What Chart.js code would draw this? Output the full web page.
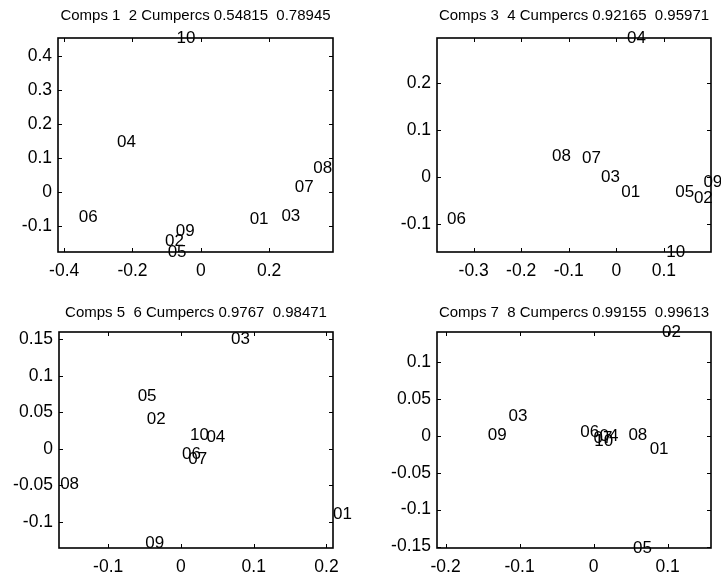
<!DOCTYPE html>
<html>
<head>
<meta charset="utf-8">
<script src="https://cdn.jsdelivr.net/npm/chart.js@4.4.1/dist/chart.umd.min.js"></script>
<style>
  body { margin: 0; background: #fff; }
  canvas { position: absolute; }
</style>
</head>
<body>
<canvas id="p1" width="360" height="290" style="left:0;top:0"></canvas>
<canvas id="p2" width="361" height="290" style="left:360px;top:0"></canvas>
<canvas id="p3" width="360" height="286" style="left:0;top:290px"></canvas>
<canvas id="p4" width="361" height="286" style="left:360px;top:290px"></canvas>
<script>
// point names, same for every panel
const names = ['01', '02', '03', '04', '05', '06', '07', '08', '09', '10'];

// component scores
const comp1 = [0.143, -0.105, 0.236, -0.245, -0.097, -0.357, 0.275, 0.329, -0.073, -0.071];
const comp2 = [-0.079, -0.144, -0.070, 0.147, -0.175, -0.072, 0.016, 0.071, -0.115, 0.454];
const comp3 = [0.0105, 0.163, -0.032, 0.0225, 0.124, -0.356, -0.072, -0.135, 0.183, 0.105];
const comp4 = [-0.033, -0.046, -0.001, 0.295, -0.033, -0.090, 0.040, 0.044, -0.011, -0.159];
const comp5 = [0.209, -0.047, 0.0687, 0.035, -0.0595, 0.0014, 0.010, -0.166, -0.049, 0.0124];
const comp6 = [-0.0897, 0.040, 0.150, 0.016, 0.0724, -0.008, -0.014, -0.0485, -0.130, 0.0188];
const comp7 = [0.0757, 0.0924, -0.115, 0.008, 0.0532, -0.018, 0.000, 0.047, -0.143, 0.001];
const comp8 = [-0.018, 0.141, 0.0263, 0.000, -0.152, 0.005, -0.003, 0.0004, 0.0004, -0.007];

const titles = [
  'Comps 1  2 Cumpercs 0.54815  0.78945',
  'Comps 3  4 Cumpercs 0.92165  0.95971',
  'Comps 5  6 Cumpercs 0.9767  0.98471',
  'Comps 7  8 Cumpercs 0.99155  0.99613'
];

// tick labels
const xTicks12 = [-0.4, -0.2, 0, 0.2];
const yTicks12 = [-0.1, 0, 0.1, 0.2, 0.3, 0.4];
const xTicks34 = [-0.3, -0.2, -0.1, 0, 0.1];
const yTicks34 = [-0.1, 0, 0.1, 0.2];
const xTicks56 = [-0.1, 0, 0.1, 0.2];
const yTicks56 = [-0.1, -0.05, 0, 0.05, 0.1, 0.15];
const xTicks78 = [-0.2, -0.1, 0, 0.1];
const yTicks78 = [-0.15, -0.1, -0.05, 0, 0.05, 0.1];

// axis ranges
const xRange12 = [-0.418, 0.387], yRange12 = [-0.175, 0.454];
const xRange34 = [-0.377, 0.199], yRange34 = [-0.159, 0.295];
const xRange56 = [-0.1676, 0.209], yRange56 = [-0.136, 0.160];
const xRange78 = [-0.2116, 0.1586], yRange78 = [-0.152, 0.141];

Chart.defaults.font.family = '"Liberation Sans", Arial, sans-serif';
Chart.defaults.color = '#000';

const fmt = v => String(Math.round(v * 1000) / 1000);

// writes the point names at the data positions (left aligned, middle)
const nameLabels = {
  id: 'nameLabels',
  afterDatasetsDraw(chart) {
    const ctx = chart.ctx;
    const xs = chart.scales.x, ys = chart.scales.y;
    ctx.save();
    ctx.font = '17px "Liberation Sans", Arial, sans-serif';
    ctx.fillStyle = '#000';
    ctx.textAlign = 'left';
    ctx.textBaseline = 'middle';
    chart.data.datasets[0].data.forEach((p, i) => {
      ctx.fillText(names[i], xs.getPixelForValue(p.x), ys.getPixelForValue(p.y));
    });
    ctx.restore();
  }
};

// box around the axes with small inward ticks on all sides
const boxTicks = {
  id: 'boxTicks',
  beforeDatasetsDraw(chart) {
    const { ctx, chartArea: a } = chart;
    const xs = chart.scales.x, ys = chart.scales.y;
    const len = 4;
    ctx.save();
    ctx.strokeStyle = '#000';
    ctx.lineWidth = 1.6;
    ctx.strokeRect(Math.round(a.left), Math.round(a.top),
      Math.round(a.right - a.left), Math.round(a.bottom - a.top));
    ctx.lineWidth = 1;
    ctx.beginPath();
    xs.ticks.forEach(t => {
      const px = Math.round(xs.getPixelForValue(t.value)) + 0.5;
      ctx.moveTo(px, a.bottom); ctx.lineTo(px, a.bottom - len);
      ctx.moveTo(px, a.top); ctx.lineTo(px, a.top + len);
    });
    ys.ticks.forEach(t => {
      const py = Math.round(ys.getPixelForValue(t.value)) + 0.5;
      ctx.moveTo(a.left, py); ctx.lineTo(a.left + len, py);
      ctx.moveTo(a.right, py); ctx.lineTo(a.right - len, py);
    });
    ctx.stroke();
    ctx.restore();
  }
};

const makeChart = (id, title, xv, yv, xr, yr, xt, yt, box) => {
  const canvas = document.getElementById(id);
  const h = canvas.height;
  return new Chart(canvas.getContext('2d'), {
    type: 'scatter',
    data: {
      datasets: [{
        data: xv.map((x, i) => ({ x: x, y: yv[i] })),
        pointRadius: 0,
        pointHoverRadius: 0
      }]
    },
    options: {
      responsive: false,
      animation: false,
      events: [],
      layout: { padding: { left: 0, right: canvas.width - box.right, top: 0, bottom: 0 } },
      scales: {
        x: {
          type: 'linear',
          min: xr[0],
          max: xr[1],
          grid: { display: false, drawTicks: false },
          border: { display: false },
          ticks: { padding: 9, autoSkip: false, maxRotation: 0, font: { size: 17.5 }, callback: fmt },
          afterBuildTicks: s => { s.ticks = xt.map(v => ({ value: v })); },
          afterFit: s => { s.height = h - box.bottom; }
        },
        y: {
          type: 'linear',
          min: yr[0],
          max: yr[1],
          grid: { display: false, drawTicks: false },
          border: { display: false },
          ticks: { padding: 6, autoSkip: false, font: { size: 17.5 }, callback: fmt },
          afterBuildTicks: s => { s.ticks = yt.map(v => ({ value: v })); },
          afterFit: s => { s.width = box.left; }
        }
      },
      plugins: {
        legend: { display: false },
        tooltip: { enabled: false },
        title: {
          display: true,
          text: title,
          fullSize: false,
          font: { size: 15, weight: 'normal' },
          padding: { top: box.titleMid - 9, bottom: box.top - box.titleMid - 9 }
        }
      }
    },
    plugins: [boxTicks, nameLabels]
  });
};

makeChart('p1', titles[0], comp1, comp2, xRange12, yRange12, xTicks12, yTicks12,
  { left: 58, top: 38, right: 333, bottom: 252, titleMid: 15.5 });
makeChart('p2', titles[1], comp3, comp4, xRange34, yRange34, xTicks34, yTicks34,
  { left: 77, top: 38, right: 351, bottom: 252, titleMid: 15.5 });
makeChart('p3', titles[2], comp5, comp6, xRange56, yRange56, xTicks56, yTicks56,
  { left: 59, top: 42, right: 333, bottom: 258, titleMid: 23.3 });
makeChart('p4', titles[3], comp7, comp8, xRange78, yRange78, xTicks78, yTicks78,
  { left: 77, top: 42, right: 351, bottom: 258, titleMid: 23.3 });
</script>
</body>
</html>
